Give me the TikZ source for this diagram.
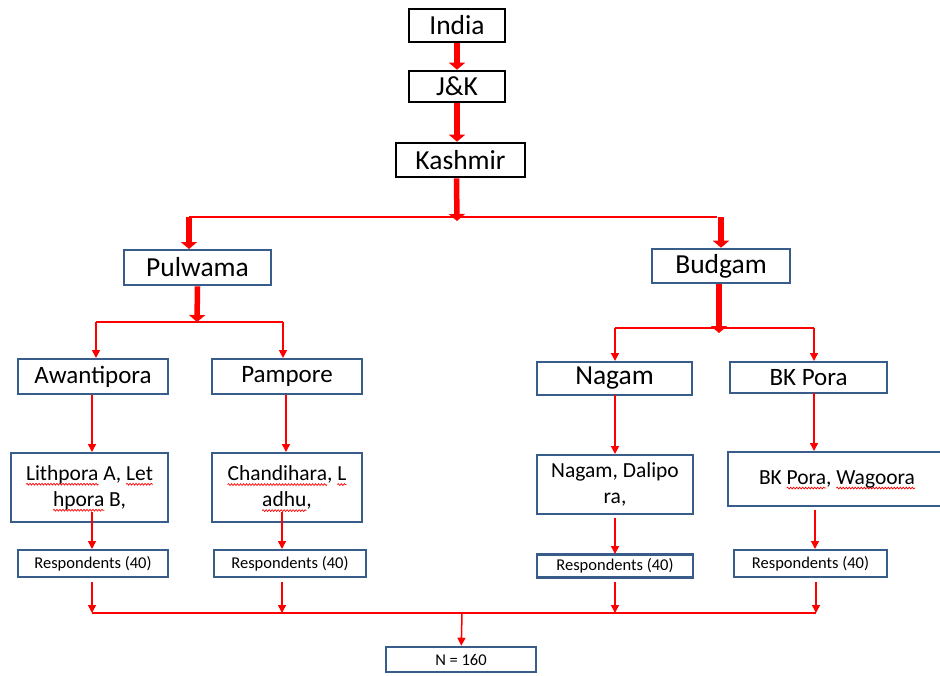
\documentclass[tikz,border=0pt]{standalone}
\usepackage{fontspec}
\setmainfont{Carlito}
\definecolor{boxblue}{HTML}{385D8A}
\definecolor{linered}{HTML}{FF0000}
\usetikzlibrary{arrows.meta, positioning, calc, decorations.pathmorphing}
\newdimen\spellwd
\newcommand\spell[1]{\leavevmode\setbox0\hbox{#1}\spellwd=\wd0\relax
  \rlap{\tikz[overlay, baseline=0pt]\draw[linered, line width=0.7pt, decorate,
    decoration={snake, amplitude=0.9pt, segment length=3pt}]
    (0pt,-4pt) -- (\spellwd,-4pt);}\box0\relax}
\tikzset{
  topbox/.style={
    draw=black, line width=2.6pt, inner sep=0pt,
    minimum width=#1, font=\fontsize{27.5}{32}\selectfont,
    text=black, align=center
  },
  topbox/.default=96pt,
  distbox/.style={
    draw=boxblue, line width=2.6pt, inner sep=0pt,
    minimum width=#1, font=\fontsize{27.5}{32}\selectfont,
    text=black, align=center
  },
  blockbox/.style={distbox=#1, font=\fontsize{25}{30}\selectfont},
  villbox/.style={distbox=#1, font=\fontsize{21.5}{26}\selectfont},
  respbox/.style={distbox=#1, font=\fontsize{16.5}{20}\selectfont},
  fatarr/.style={-{Triangle[length=7pt,width=16pt]}, line width=5.5pt, color=linered},
  arr/.style={-{Triangle[length=8pt,width=8pt]}, line width=1.5pt, color=linered},
  ln/.style={line width=1.5pt, color=linered},
}
\begin{document}
\begin{tikzpicture}[x=1pt, y=-1pt]
    \clip (0,0) rectangle (940,675);
    \fill[white] (0,0) rectangle (940,675);

    % top chain
    \node[topbox, minimum height=33pt] (india) at (457,25.5) {India};
    \node[topbox, minimum height=31pt] (jk) at (457,86.5) {J\&K};
    \node[topbox=129pt, minimum height=34pt] (kash) at (460.5,160) {Kashmir};

    % districts
    \node[distbox=147pt, minimum height=35pt] (pul) at (197.5,267.5) {Pulwama};
    \node[distbox=138pt, minimum height=34pt] (bud) at (721,266) {Budgam};

    % blocks
    \node[blockbox=150pt, minimum height=35pt] (awan) at (93,376.5) {Awantipora};
    \node[blockbox=150pt, minimum height=35pt] (pamp) at (287,376.5) {Pampore};
    \node[distbox=155pt, minimum height=33pt] (nag) at (614.5,378.5) {Nagam};
    \node[blockbox=157pt, minimum height=31pt] (bkp) at (808.5,377.5) {BK Pora};

    % villages
    \node[villbox=157pt, minimum height=69pt] (lith) at (89.5,487.5)
      {\spell{Lithpora} A, \spell{Let}\\\spell{hpora} B,};
    \node[villbox=150pt, minimum height=69pt] (chan) at (287,487.5)
      {\spell{Chandihara}, \spell{L}\\\spell{adhu},};
    \node[villbox=156pt, minimum height=59pt] (nagv) at (615,484.5)
      {Nagam, Dalipo\\ra,};
    \node[villbox=218pt, minimum height=54pt] (bkv) at (837,479)
      {BK \spell{Pora}, \spell{Wagoora}};

    % respondents
    \node[respbox=150pt, minimum height=27pt] (r1) at (93,563.5) {Respondents (40)};
    \node[respbox=152pt, minimum height=27pt] (r2) at (290,563.5) {Respondents (40)};
    \node[respbox=156pt, minimum height=23pt] (r3) at (615,566) {Respondents (40)};
    \node[respbox=153pt, minimum height=27pt] (r4) at (810.5,563.5) {Respondents (40)};

    \node[respbox=150pt, minimum height=25pt] (total) at (461,659.5) {N = 160};

    % junction points
    \coordinate (kfork) at (457,217);
    \coordinate (pfork) at (197,322);
    \coordinate (bfork) at (719,328);
    \coordinate (sum) at (462,613);

    \draw[fatarr] (india) -- (jk);
    \draw[fatarr] (jk) -- (jk |- kash.north);
    \draw[fatarr] ([xshift=-4pt]kash.south) -- ([yshift=-4pt]kfork);
    \draw[ln] (189,217) -- (717,217);
    \draw[fatarr] (189,217) -- (189,249);
    \draw[fatarr] (bud.north |- kfork) -- (bud.north);

    \draw[fatarr] (pul.south) -- (pfork);
    \draw[ln] (96,322) -- (283,322);
    \draw[arr] (96,322) -- (96,358);
    \draw[arr] (283,322) -- (283,358);

    \draw[fatarr] (bfork |- bud.south) -- ([yshift=-5pt]bfork);
    \draw[ln] (615,328) -- (814,328);
    \draw[arr] (615,328) -- (615,361);
    \draw[arr] (814,328) -- (814,361);

    \draw[arr] (92,395) -- (92,452);
    \draw[arr] (286,395) -- (286,452);
    \draw[arr] (615,395) -- (615,454);
    \draw[arr] (814,393) -- (814,451);

    \draw[arr] (92,512) -- (92,549);
    \draw[arr] (282,512) -- (282,549);
    \draw[arr] (615,518) -- (615,554);
    \draw[arr] (815,510) -- (815,549);

    \foreach \x in {92,282,615,816}
      \draw[arr] (\x,582) -- (\x,613);
    \draw[ln] (92,613) -- (816,613);
    \draw[arr] (sum) -- (total);
\end{tikzpicture}
\end{document}
